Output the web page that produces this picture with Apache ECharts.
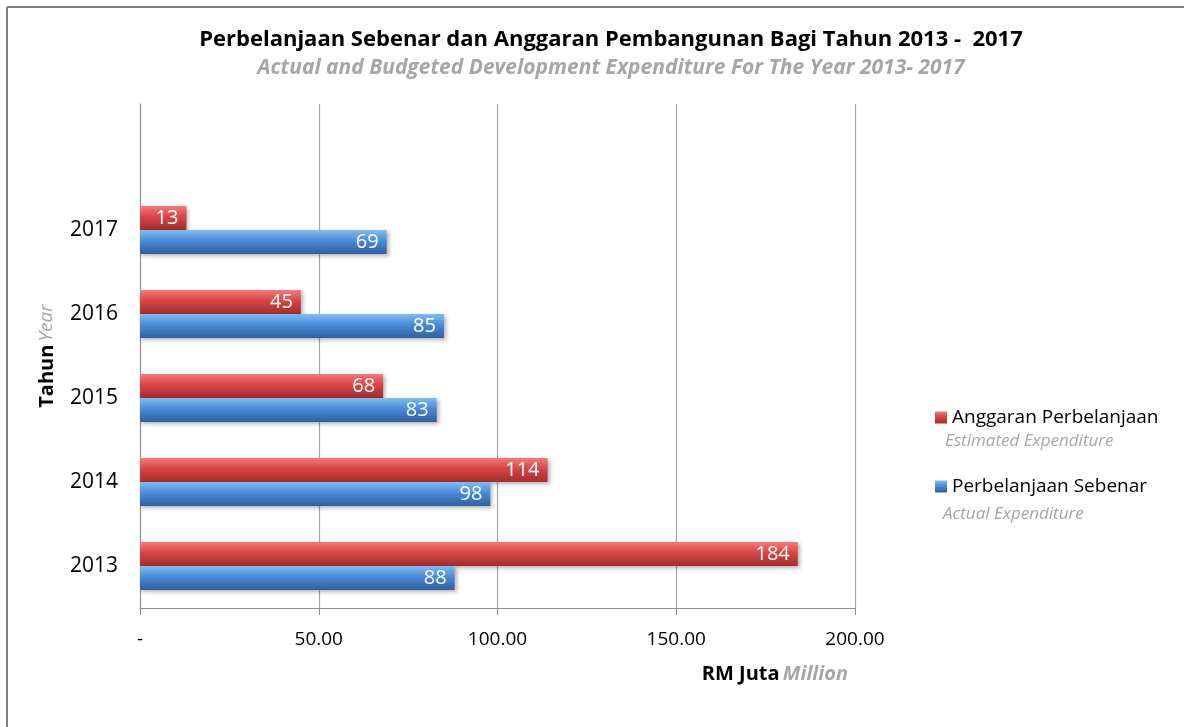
<!DOCTYPE html>
<html>
<head>
<meta charset="utf-8">
<script src="https://cdn.jsdelivr.net/npm/echarts@6/dist/echarts.min.js"></script>
<style>
  html, body { margin: 0; padding: 0; background: #fff; }
  #chart { width: 1184px; height: 727px; }
</style>
</head>
<body>
<div id="chart"></div>
<script>
// data
var years = ["2013", "2014", "2015", "2016", "2017", ""];
var anggaran = [184, 114, 68, 45, 13, null];
var sebenar = [88, 98, 83, 85, 69, null];
var xTicks = [0, 50, 100, 150, 200];

var FONT = "'Open Sans', 'Noto Sans', sans-serif";

var chart = echarts.init(document.getElementById("chart"));

function grad(top, mid, bottom) {
  return new echarts.graphic.LinearGradient(0, 0, 0, 1, [
    { offset: 0, color: top },
    { offset: 0.45, color: mid },
    { offset: 1, color: bottom }
  ]);
}

var labelOpt = {
  show: true,
  position: "insideRight",
  distance: 8,
  color: "#fff",
  fontFamily: FONT,
  fontSize: 20
};

chart.setOption({
  animation: false,
  textStyle: { fontFamily: FONT },
  title: {
    text: "Perbelanjaan Sebenar dan Anggaran Pembangunan Bagi Tahun 2013 -  2017",
    subtext: "Actual and Budgeted Development Expenditure For The Year 2013- 2017",
    left: 606,
    textAlign: "center",
    top: 24,
    itemGap: 7,
    textStyle: { fontSize: 22, fontWeight: "bold", color: "#000", fontFamily: FONT },
    subtextStyle: { fontSize: 21, fontStyle: "italic", fontWeight: "bold", color: "#a6a6a6", fontFamily: FONT }
  },
  legend: {
    orient: "vertical",
    left: 930,
    top: 403,
    itemGap: 50,
    itemWidth: 12,
    itemHeight: 12,
    icon: "rect",
    textStyle: { fontSize: 19, color: "#000", fontFamily: FONT },
    data: ["Anggaran Perbelanjaan", "Perbelanjaan Sebenar"]
  },
  grid: { left: 140, right: 329, top: 104, bottom: 119 },
  xAxis: {
    type: "value",
    min: 0,
    max: 200,
    interval: 50,
    axisLine: { show: true, lineStyle: { color: "#8c8c8c" } },
    axisTick: { show: true, length: 7, lineStyle: { color: "#8c8c8c" } },
    splitLine: { show: true, lineStyle: { color: "#a6a6a6", width: 1.2 } },
    axisLabel: {
      margin: 22,
      fontSize: 19,
      color: "#000",
      formatter: function (v) {
        return xTicks.indexOf(v) === 0 ? "-" : v.toFixed(2);
      }
    }
  },
  yAxis: {
    type: "category",
    data: years,
    axisLine: { show: true, lineStyle: { color: "#8c8c8c" } },
    axisTick: { show: false },
    axisLabel: { margin: 22, fontSize: 21, color: "#000" },
    name: "{a|Tahun} {b|Year}",
    nameLocation: "middle",
    nameRotate: 90,
    nameGap: 83,
    nameTextStyle: {
      rich: {
        a: { fontSize: 20, fontWeight: "bold", color: "#000", fontFamily: FONT },
        b: { fontSize: 19, fontStyle: "italic", color: "#a6a6a6", fontFamily: FONT }
      }
    }
  },
  graphic: [
    { type: "line", shape: { x1: 7, y1: 7, x2: 1184, y2: 7 }, style: { stroke: "#808080", lineWidth: 2 } },
    { type: "line", shape: { x1: 7, y1: 7, x2: 7, y2: 727 }, style: { stroke: "#808080", lineWidth: 2 } },
    {
      type: "text", left: 945, top: 433,
      style: { text: "Estimated Expenditure", fontSize: 17, fontStyle: "italic", fill: "#a6a6a6", fontFamily: FONT }
    },
    {
      type: "text", left: 943, top: 506,
      style: { text: "Actual Expenditure", fontSize: 17, fontStyle: "italic", fill: "#a6a6a6", fontFamily: FONT }
    },
    {
      type: "text", right: 336, top: 664,
      style: {
        text: "{a|RM Juta} {b|Million}",
        rich: {
          a: { fontSize: 20, fontWeight: "bold", fill: "#000", fontFamily: FONT },
          b: { fontSize: 20, fontWeight: "bold", fontStyle: "italic", fill: "#a6a6a6", fontFamily: FONT }
        }
      }
    }
  ],
  series: [
    {
      name: "Anggaran Perbelanjaan",
      type: "bar",
      data: anggaran,
      barWidth: 24,
      barGap: "0%",
      itemStyle: {
        color: grad("#f47a7a", "#d84545", "#a32c2c"),
        shadowColor: "rgba(0,0,0,0.3)",
        shadowBlur: 4,
        shadowOffsetY: 2,
        shadowOffsetX: 2
      },
      label: labelOpt
    },
    {
      name: "Perbelanjaan Sebenar",
      type: "bar",
      data: sebenar,
      barWidth: 24,
      barGap: "0%",
      itemStyle: {
        color: grad("#7fbdf2", "#4b8ad6", "#2e5f9f"),
        shadowColor: "rgba(0,0,0,0.3)",
        shadowBlur: 4,
        shadowOffsetY: 2,
        shadowOffsetX: 2
      },
      label: labelOpt
    }
  ]
});
</script>
</body>
</html>
